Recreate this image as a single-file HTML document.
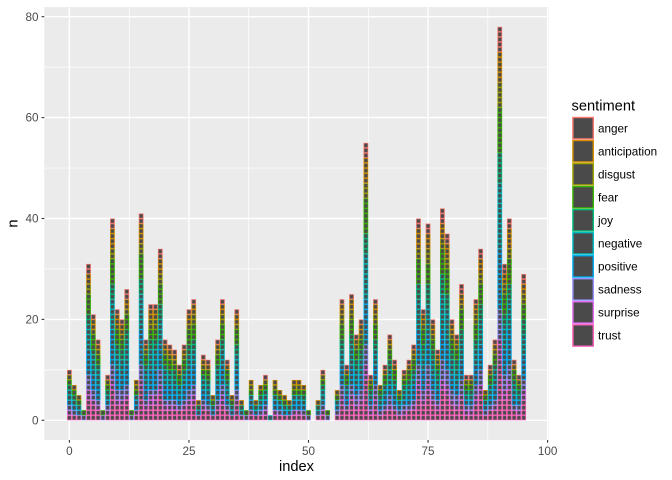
<!DOCTYPE html>
<html><head><meta charset="utf-8">
<style>
html,body{margin:0;padding:0;background:#fff;}
svg{display:block;font-family:"Liberation Sans",sans-serif;}
.bars rect{stroke:none;}
.T{fill:url(#pT)}
.S{fill:url(#pS)}
.D{fill:url(#pD)}
.P{fill:url(#pP)}
.N{fill:url(#pN)}
.J{fill:url(#pJ)}
.F{fill:url(#pF)}
.G{fill:url(#pG)}
.C{fill:url(#pC)}
.A{fill:url(#pA)}
.ax{font-size:11.7px;fill:#4D4D4D}
.lg{font-size:11.7px;fill:#000}
.tt{font-size:14.67px;fill:#000}
</style></head><body>
<svg width="672" height="480" viewBox="0 0 672 480" xmlns="http://www.w3.org/2000/svg">
<defs>
<pattern id="pT" patternUnits="userSpaceOnUse" x="-.5" y="0" width="1" height="1"><rect width="1" height="1" fill="#FF62BC"/><rect x=".16" y=".14" width=".68" height=".72" fill="#4a4a4a"/></pattern>
<pattern id="pS" patternUnits="userSpaceOnUse" x="-.5" y="0" width="1" height="1"><rect width="1" height="1" fill="#E76BF3"/><rect x=".16" y=".14" width=".68" height=".72" fill="#4a4a4a"/></pattern>
<pattern id="pD" patternUnits="userSpaceOnUse" x="-.5" y="0" width="1" height="1"><rect width="1" height="1" fill="#9590FF"/><rect x=".16" y=".14" width=".68" height=".72" fill="#4a4a4a"/></pattern>
<pattern id="pP" patternUnits="userSpaceOnUse" x="-.5" y="0" width="1" height="1"><rect width="1" height="1" fill="#00B0F6"/><rect x=".16" y=".14" width=".68" height=".72" fill="#4a4a4a"/></pattern>
<pattern id="pN" patternUnits="userSpaceOnUse" x="-.5" y="0" width="1" height="1"><rect width="1" height="1" fill="#00BFC4"/><rect x=".16" y=".14" width=".68" height=".72" fill="#4a4a4a"/></pattern>
<pattern id="pJ" patternUnits="userSpaceOnUse" x="-.5" y="0" width="1" height="1"><rect width="1" height="1" fill="#00BF7D"/><rect x=".16" y=".14" width=".68" height=".72" fill="#4a4a4a"/></pattern>
<pattern id="pF" patternUnits="userSpaceOnUse" x="-.5" y="0" width="1" height="1"><rect width="1" height="1" fill="#39B600"/><rect x=".16" y=".14" width=".68" height=".72" fill="#4a4a4a"/></pattern>
<pattern id="pG" patternUnits="userSpaceOnUse" x="-.5" y="0" width="1" height="1"><rect width="1" height="1" fill="#A3A500"/><rect x=".16" y=".14" width=".68" height=".72" fill="#4a4a4a"/></pattern>
<pattern id="pC" patternUnits="userSpaceOnUse" x="-.5" y="0" width="1" height="1"><rect width="1" height="1" fill="#D89000"/><rect x=".16" y=".14" width=".68" height=".72" fill="#4a4a4a"/></pattern>
<pattern id="pA" patternUnits="userSpaceOnUse" x="-.5" y="0" width="1" height="1"><rect width="1" height="1" fill="#F8766D"/><rect x=".16" y=".14" width=".68" height=".72" fill="#4a4a4a"/></pattern>

<g id="b1"><rect class="N" x="-.5" width="1" y="0" height="1"/></g>
<g id="b2"><rect class="D" x="-.5" width="1" y="0" height="1"/><rect class="F" x="-.5" width="1" y="1" height="1"/></g>
<g id="b4"><rect class="T" x="-.5" width="1" y="0" height="1"/><rect class="P" x="-.5" width="1" y="1" height="1"/><rect class="J" x="-.5" width="1" y="2" height="1"/><rect class="C" x="-.5" width="1" y="3" height="1"/></g>
<g id="b5"><rect class="T" x="-.5" width="1" y="0" height="1"/><rect class="P" x="-.5" width="1" y="1" height="1"/><rect class="N" x="-.5" width="1" y="2" height="1"/><rect class="F" x="-.5" width="1" y="3" height="1"/><rect class="C" x="-.5" width="1" y="4" height="1"/></g>
<g id="b6"><rect class="T" x="-.5" width="1" y="0" height="1"/><rect class="D" x="-.5" width="1" y="1" height="1"/><rect class="P" x="-.5" width="1" y="2" height="1"/><rect class="N" x="-.5" width="1" y="3" height="1"/><rect class="F" x="-.5" width="1" y="4" height="1"/><rect class="C" x="-.5" width="1" y="5" height="1"/></g>
<g id="b7"><rect class="T" x="-.5" width="1" y="0" height="1"/><rect class="D" x="-.5" width="1" y="1" height="1"/><rect class="P" x="-.5" width="1" y="2" height="1"/><rect class="N" x="-.5" width="1" y="3" height="1"/><rect class="J" x="-.5" width="1" y="4" height="1"/><rect class="F" x="-.5" width="1" y="5" height="1"/><rect class="C" x="-.5" width="1" y="6" height="1"/></g>
<g id="b8"><rect class="T" x="-.5" width="1" y="0" height="1"/><rect class="S" x="-.5" width="1" y="1" height="1"/><rect class="P" x="-.5" width="1" y="2" height="2"/><rect class="N" x="-.5" width="1" y="4" height="1"/><rect class="F" x="-.5" width="1" y="5" height="1"/><rect class="G" x="-.5" width="1" y="6" height="1"/><rect class="C" x="-.5" width="1" y="7" height="1"/></g>
<g id="b9"><rect class="T" x="-.5" width="1" y="0" height="1"/><rect class="S" x="-.5" width="1" y="1" height="1"/><rect class="D" x="-.5" width="1" y="2" height="1"/><rect class="P" x="-.5" width="1" y="3" height="1"/><rect class="N" x="-.5" width="1" y="4" height="1"/><rect class="J" x="-.5" width="1" y="5" height="1"/><rect class="F" x="-.5" width="1" y="6" height="1"/><rect class="G" x="-.5" width="1" y="7" height="1"/><rect class="A" x="-.5" width="1" y="8" height="1"/></g>
<g id="b10"><rect class="T" x="-.5" width="1" y="0" height="1"/><rect class="S" x="-.5" width="1" y="1" height="1"/><rect class="D" x="-.5" width="1" y="2" height="1"/><rect class="P" x="-.5" width="1" y="3" height="1"/><rect class="N" x="-.5" width="1" y="4" height="2"/><rect class="J" x="-.5" width="1" y="6" height="1"/><rect class="F" x="-.5" width="1" y="7" height="1"/><rect class="G" x="-.5" width="1" y="8" height="1"/><rect class="A" x="-.5" width="1" y="9" height="1"/></g>
<g id="b11"><rect class="T" x="-.5" width="1" y="0" height="2"/><rect class="D" x="-.5" width="1" y="2" height="1"/><rect class="P" x="-.5" width="1" y="3" height="2"/><rect class="N" x="-.5" width="1" y="5" height="2"/><rect class="F" x="-.5" width="1" y="7" height="2"/><rect class="C" x="-.5" width="1" y="9" height="1"/><rect class="A" x="-.5" width="1" y="10" height="1"/></g>
<g id="b12"><rect class="T" x="-.5" width="1" y="0" height="2"/><rect class="D" x="-.5" width="1" y="2" height="1"/><rect class="P" x="-.5" width="1" y="3" height="2"/><rect class="N" x="-.5" width="1" y="5" height="2"/><rect class="J" x="-.5" width="1" y="7" height="1"/><rect class="F" x="-.5" width="1" y="8" height="2"/><rect class="C" x="-.5" width="1" y="10" height="1"/><rect class="A" x="-.5" width="1" y="11" height="1"/></g>
<g id="b13"><rect class="T" x="-.5" width="1" y="0" height="2"/><rect class="S" x="-.5" width="1" y="2" height="1"/><rect class="D" x="-.5" width="1" y="3" height="1"/><rect class="P" x="-.5" width="1" y="4" height="2"/><rect class="N" x="-.5" width="1" y="6" height="2"/><rect class="J" x="-.5" width="1" y="8" height="1"/><rect class="F" x="-.5" width="1" y="9" height="1"/><rect class="G" x="-.5" width="1" y="10" height="1"/><rect class="C" x="-.5" width="1" y="11" height="1"/><rect class="A" x="-.5" width="1" y="12" height="1"/></g>
<g id="b14"><rect class="T" x="-.5" width="1" y="0" height="2"/><rect class="S" x="-.5" width="1" y="2" height="1"/><rect class="D" x="-.5" width="1" y="3" height="1"/><rect class="P" x="-.5" width="1" y="4" height="2"/><rect class="N" x="-.5" width="1" y="6" height="2"/><rect class="J" x="-.5" width="1" y="8" height="2"/><rect class="F" x="-.5" width="1" y="10" height="1"/><rect class="G" x="-.5" width="1" y="11" height="1"/><rect class="C" x="-.5" width="1" y="12" height="1"/><rect class="A" x="-.5" width="1" y="13" height="1"/></g>
<g id="b15"><rect class="T" x="-.5" width="1" y="0" height="2"/><rect class="S" x="-.5" width="1" y="2" height="1"/><rect class="D" x="-.5" width="1" y="3" height="1"/><rect class="P" x="-.5" width="1" y="4" height="3"/><rect class="N" x="-.5" width="1" y="7" height="2"/><rect class="J" x="-.5" width="1" y="9" height="1"/><rect class="F" x="-.5" width="1" y="10" height="2"/><rect class="G" x="-.5" width="1" y="12" height="1"/><rect class="C" x="-.5" width="1" y="13" height="1"/><rect class="A" x="-.5" width="1" y="14" height="1"/></g>
<g id="b16"><rect class="T" x="-.5" width="1" y="0" height="2"/><rect class="S" x="-.5" width="1" y="2" height="1"/><rect class="D" x="-.5" width="1" y="3" height="1"/><rect class="P" x="-.5" width="1" y="4" height="3"/><rect class="N" x="-.5" width="1" y="7" height="3"/><rect class="J" x="-.5" width="1" y="10" height="1"/><rect class="F" x="-.5" width="1" y="11" height="2"/><rect class="G" x="-.5" width="1" y="13" height="1"/><rect class="C" x="-.5" width="1" y="14" height="1"/><rect class="A" x="-.5" width="1" y="15" height="1"/></g>
<g id="b17"><rect class="T" x="-.5" width="1" y="0" height="2"/><rect class="S" x="-.5" width="1" y="2" height="1"/><rect class="D" x="-.5" width="1" y="3" height="2"/><rect class="P" x="-.5" width="1" y="5" height="2"/><rect class="N" x="-.5" width="1" y="7" height="3"/><rect class="J" x="-.5" width="1" y="10" height="2"/><rect class="F" x="-.5" width="1" y="12" height="2"/><rect class="G" x="-.5" width="1" y="14" height="1"/><rect class="C" x="-.5" width="1" y="15" height="1"/><rect class="A" x="-.5" width="1" y="16" height="1"/></g>
<g id="b20"><rect class="T" x="-.5" width="1" y="0" height="3"/><rect class="S" x="-.5" width="1" y="3" height="1"/><rect class="D" x="-.5" width="1" y="4" height="2"/><rect class="P" x="-.5" width="1" y="6" height="3"/><rect class="N" x="-.5" width="1" y="9" height="3"/><rect class="J" x="-.5" width="1" y="12" height="2"/><rect class="F" x="-.5" width="1" y="14" height="2"/><rect class="G" x="-.5" width="1" y="16" height="1"/><rect class="C" x="-.5" width="1" y="17" height="2"/><rect class="A" x="-.5" width="1" y="19" height="1"/></g>
<g id="b21"><rect class="T" x="-.5" width="1" y="0" height="3"/><rect class="S" x="-.5" width="1" y="3" height="1"/><rect class="D" x="-.5" width="1" y="4" height="2"/><rect class="P" x="-.5" width="1" y="6" height="3"/><rect class="N" x="-.5" width="1" y="9" height="4"/><rect class="J" x="-.5" width="1" y="13" height="1"/><rect class="F" x="-.5" width="1" y="14" height="3"/><rect class="G" x="-.5" width="1" y="17" height="1"/><rect class="C" x="-.5" width="1" y="18" height="2"/><rect class="A" x="-.5" width="1" y="20" height="1"/></g>
<g id="b22"><rect class="T" x="-.5" width="1" y="0" height="3"/><rect class="S" x="-.5" width="1" y="3" height="1"/><rect class="D" x="-.5" width="1" y="4" height="2"/><rect class="P" x="-.5" width="1" y="6" height="4"/><rect class="N" x="-.5" width="1" y="10" height="3"/><rect class="J" x="-.5" width="1" y="13" height="2"/><rect class="F" x="-.5" width="1" y="15" height="3"/><rect class="G" x="-.5" width="1" y="18" height="1"/><rect class="C" x="-.5" width="1" y="19" height="2"/><rect class="A" x="-.5" width="1" y="21" height="1"/></g>
<g id="b23"><rect class="T" x="-.5" width="1" y="0" height="3"/><rect class="S" x="-.5" width="1" y="3" height="2"/><rect class="D" x="-.5" width="1" y="5" height="1"/><rect class="P" x="-.5" width="1" y="6" height="4"/><rect class="N" x="-.5" width="1" y="10" height="4"/><rect class="J" x="-.5" width="1" y="14" height="2"/><rect class="F" x="-.5" width="1" y="16" height="2"/><rect class="G" x="-.5" width="1" y="18" height="2"/><rect class="C" x="-.5" width="1" y="20" height="2"/><rect class="A" x="-.5" width="1" y="22" height="1"/></g>
<g id="b24"><rect class="T" x="-.5" width="1" y="0" height="3"/><rect class="S" x="-.5" width="1" y="3" height="2"/><rect class="D" x="-.5" width="1" y="5" height="2"/><rect class="P" x="-.5" width="1" y="7" height="4"/><rect class="N" x="-.5" width="1" y="11" height="3"/><rect class="J" x="-.5" width="1" y="14" height="2"/><rect class="F" x="-.5" width="1" y="16" height="3"/><rect class="G" x="-.5" width="1" y="19" height="2"/><rect class="C" x="-.5" width="1" y="21" height="2"/><rect class="A" x="-.5" width="1" y="23" height="1"/></g>
<g id="b25"><rect class="T" x="-.5" width="1" y="0" height="4"/><rect class="S" x="-.5" width="1" y="4" height="1"/><rect class="D" x="-.5" width="1" y="5" height="2"/><rect class="P" x="-.5" width="1" y="7" height="4"/><rect class="N" x="-.5" width="1" y="11" height="4"/><rect class="J" x="-.5" width="1" y="15" height="2"/><rect class="F" x="-.5" width="1" y="17" height="3"/><rect class="G" x="-.5" width="1" y="20" height="2"/><rect class="C" x="-.5" width="1" y="22" height="2"/><rect class="A" x="-.5" width="1" y="24" height="1"/></g>
<g id="b26"><rect class="T" x="-.5" width="1" y="0" height="4"/><rect class="S" x="-.5" width="1" y="4" height="1"/><rect class="D" x="-.5" width="1" y="5" height="2"/><rect class="P" x="-.5" width="1" y="7" height="4"/><rect class="N" x="-.5" width="1" y="11" height="5"/><rect class="J" x="-.5" width="1" y="16" height="2"/><rect class="F" x="-.5" width="1" y="18" height="3"/><rect class="G" x="-.5" width="1" y="21" height="1"/><rect class="C" x="-.5" width="1" y="22" height="2"/><rect class="A" x="-.5" width="1" y="24" height="2"/></g>
<g id="b27"><rect class="T" x="-.5" width="1" y="0" height="4"/><rect class="S" x="-.5" width="1" y="4" height="1"/><rect class="D" x="-.5" width="1" y="5" height="3"/><rect class="P" x="-.5" width="1" y="8" height="4"/><rect class="N" x="-.5" width="1" y="12" height="4"/><rect class="J" x="-.5" width="1" y="16" height="2"/><rect class="F" x="-.5" width="1" y="18" height="4"/><rect class="G" x="-.5" width="1" y="22" height="1"/><rect class="C" x="-.5" width="1" y="23" height="2"/><rect class="A" x="-.5" width="1" y="25" height="2"/></g>
<g id="b29"><rect class="T" x="-.5" width="1" y="0" height="4"/><rect class="S" x="-.5" width="1" y="4" height="2"/><rect class="D" x="-.5" width="1" y="6" height="2"/><rect class="P" x="-.5" width="1" y="8" height="5"/><rect class="N" x="-.5" width="1" y="13" height="4"/><rect class="J" x="-.5" width="1" y="17" height="3"/><rect class="F" x="-.5" width="1" y="20" height="3"/><rect class="G" x="-.5" width="1" y="23" height="2"/><rect class="C" x="-.5" width="1" y="25" height="2"/><rect class="A" x="-.5" width="1" y="27" height="2"/></g>
<g id="b31"><rect class="T" x="-.5" width="1" y="0" height="4"/><rect class="S" x="-.5" width="1" y="4" height="2"/><rect class="D" x="-.5" width="1" y="6" height="3"/><rect class="P" x="-.5" width="1" y="9" height="5"/><rect class="N" x="-.5" width="1" y="14" height="5"/><rect class="J" x="-.5" width="1" y="19" height="2"/><rect class="F" x="-.5" width="1" y="21" height="4"/><rect class="G" x="-.5" width="1" y="25" height="2"/><rect class="C" x="-.5" width="1" y="27" height="2"/><rect class="A" x="-.5" width="1" y="29" height="2"/></g>
<g id="b34"><rect class="T" x="-.5" width="1" y="0" height="5"/><rect class="S" x="-.5" width="1" y="5" height="2"/><rect class="D" x="-.5" width="1" y="7" height="3"/><rect class="P" x="-.5" width="1" y="10" height="5"/><rect class="N" x="-.5" width="1" y="15" height="5"/><rect class="J" x="-.5" width="1" y="20" height="3"/><rect class="F" x="-.5" width="1" y="23" height="4"/><rect class="G" x="-.5" width="1" y="27" height="2"/><rect class="C" x="-.5" width="1" y="29" height="3"/><rect class="A" x="-.5" width="1" y="32" height="2"/></g>
<g id="b37"><rect class="T" x="-.5" width="1" y="0" height="5"/><rect class="S" x="-.5" width="1" y="5" height="2"/><rect class="D" x="-.5" width="1" y="7" height="3"/><rect class="P" x="-.5" width="1" y="10" height="6"/><rect class="N" x="-.5" width="1" y="16" height="6"/><rect class="J" x="-.5" width="1" y="22" height="3"/><rect class="F" x="-.5" width="1" y="25" height="5"/><rect class="G" x="-.5" width="1" y="30" height="2"/><rect class="C" x="-.5" width="1" y="32" height="3"/><rect class="A" x="-.5" width="1" y="35" height="2"/></g>
<g id="b39"><rect class="T" x="-.5" width="1" y="0" height="5"/><rect class="S" x="-.5" width="1" y="5" height="3"/><rect class="D" x="-.5" width="1" y="8" height="3"/><rect class="P" x="-.5" width="1" y="11" height="6"/><rect class="N" x="-.5" width="1" y="17" height="6"/><rect class="J" x="-.5" width="1" y="23" height="4"/><rect class="F" x="-.5" width="1" y="27" height="4"/><rect class="G" x="-.5" width="1" y="31" height="3"/><rect class="C" x="-.5" width="1" y="34" height="3"/><rect class="A" x="-.5" width="1" y="37" height="2"/></g>
<g id="b40"><rect class="T" x="-.5" width="1" y="0" height="6"/><rect class="S" x="-.5" width="1" y="6" height="2"/><rect class="D" x="-.5" width="1" y="8" height="3"/><rect class="P" x="-.5" width="1" y="11" height="7"/><rect class="N" x="-.5" width="1" y="18" height="6"/><rect class="J" x="-.5" width="1" y="24" height="3"/><rect class="F" x="-.5" width="1" y="27" height="5"/><rect class="G" x="-.5" width="1" y="32" height="2"/><rect class="C" x="-.5" width="1" y="34" height="4"/><rect class="A" x="-.5" width="1" y="38" height="2"/></g>
<g id="b41"><rect class="T" x="-.5" width="1" y="0" height="6"/><rect class="S" x="-.5" width="1" y="6" height="2"/><rect class="D" x="-.5" width="1" y="8" height="3"/><rect class="P" x="-.5" width="1" y="11" height="7"/><rect class="N" x="-.5" width="1" y="18" height="7"/><rect class="J" x="-.5" width="1" y="25" height="3"/><rect class="F" x="-.5" width="1" y="28" height="5"/><rect class="G" x="-.5" width="1" y="33" height="2"/><rect class="C" x="-.5" width="1" y="35" height="4"/><rect class="A" x="-.5" width="1" y="39" height="2"/></g>
<g id="b42"><rect class="T" x="-.5" width="1" y="0" height="6"/><rect class="S" x="-.5" width="1" y="6" height="2"/><rect class="D" x="-.5" width="1" y="8" height="4"/><rect class="P" x="-.5" width="1" y="12" height="6"/><rect class="N" x="-.5" width="1" y="18" height="7"/><rect class="J" x="-.5" width="1" y="25" height="4"/><rect class="F" x="-.5" width="1" y="29" height="5"/><rect class="G" x="-.5" width="1" y="34" height="2"/><rect class="C" x="-.5" width="1" y="36" height="3"/><rect class="A" x="-.5" width="1" y="39" height="3"/></g>
<g id="b55"><rect class="T" x="-.5" width="1" y="0" height="8"/><rect class="S" x="-.5" width="1" y="8" height="3"/><rect class="D" x="-.5" width="1" y="11" height="4"/><rect class="P" x="-.5" width="1" y="15" height="9"/><rect class="N" x="-.5" width="1" y="24" height="9"/><rect class="J" x="-.5" width="1" y="33" height="4"/><rect class="F" x="-.5" width="1" y="37" height="7"/><rect class="G" x="-.5" width="1" y="44" height="3"/><rect class="C" x="-.5" width="1" y="47" height="5"/><rect class="A" x="-.5" width="1" y="52" height="3"/></g>
<g id="b78"><rect class="T" x="-.5" width="1" y="0" height="11"/><rect class="S" x="-.5" width="1" y="11" height="5"/><rect class="D" x="-.5" width="1" y="16" height="6"/><rect class="P" x="-.5" width="1" y="22" height="12"/><rect class="N" x="-.5" width="1" y="34" height="13"/><rect class="J" x="-.5" width="1" y="47" height="6"/><rect class="F" x="-.5" width="1" y="53" height="9"/><rect class="G" x="-.5" width="1" y="62" height="5"/><rect class="C" x="-.5" width="1" y="67" height="6"/><rect class="A" x="-.5" width="1" y="73" height="5"/></g>
</defs>

<rect x="0" y="0" width="672" height="480" fill="#fff"/>
<!-- panel -->
<rect x="44.3" y="7.1" width="504.5" height="432.9" fill="#EBEBEB"/>
<g stroke="#fff" stroke-width="0.7">
<line x1="129.2" y1="7.1" x2="129.2" y2="440"/><line x1="248.7" y1="7.1" x2="248.7" y2="440"/><line x1="368.3" y1="7.1" x2="368.3" y2="440"/><line x1="487.8" y1="7.1" x2="487.8" y2="440"/>
<line x1="44.3" y1="369.85" x2="548.8" y2="369.85"/><line x1="44.3" y1="268.95" x2="548.8" y2="268.95"/><line x1="44.3" y1="168.05" x2="548.8" y2="168.05"/><line x1="44.3" y1="67.15" x2="548.8" y2="67.15"/>
</g>
<g stroke="#fff" stroke-width="1.4">
<line x1="69.4" y1="7.1" x2="69.4" y2="440"/><line x1="188.95" y1="7.1" x2="188.95" y2="440"/><line x1="308.5" y1="7.1" x2="308.5" y2="440"/><line x1="428.05" y1="7.1" x2="428.05" y2="440"/><line x1="547.6" y1="7.1" x2="547.6" y2="440"/>
<line x1="44.3" y1="420.3" x2="548.8" y2="420.3"/><line x1="44.3" y1="319.4" x2="548.8" y2="319.4"/><line x1="44.3" y1="218.5" x2="548.8" y2="218.5"/><line x1="44.3" y1="117.6" x2="548.8" y2="117.6"/><line x1="44.3" y1="16.7" x2="548.8" y2="16.7"/>
</g>

<!-- bars -->
<g class="bars" transform="translate(69.4,420.3) scale(4.782,-5.045)">
<use href="#b10" x="0"/><use href="#b7" x="1"/><use href="#b5" x="2"/><use href="#b2" x="3"/><use href="#b31" x="4"/><use href="#b21" x="5"/><use href="#b16" x="6"/><use href="#b2" x="7"/><use href="#b9" x="8"/><use href="#b40" x="9"/>
<use href="#b22" x="10"/><use href="#b20" x="11"/><use href="#b26" x="12"/><use href="#b2" x="13"/><use href="#b8" x="14"/><use href="#b41" x="15"/><use href="#b16" x="16"/><use href="#b23" x="17"/><use href="#b23" x="18"/><use href="#b34" x="19"/>
<use href="#b16" x="20"/><use href="#b15" x="21"/><use href="#b14" x="22"/><use href="#b11" x="23"/><use href="#b15" x="24"/><use href="#b22" x="25"/><use href="#b24" x="26"/><use href="#b4" x="27"/><use href="#b13" x="28"/><use href="#b12" x="29"/>
<use href="#b5" x="30"/><use href="#b16" x="31"/><use href="#b24" x="32"/><use href="#b12" x="33"/><use href="#b5" x="34"/><use href="#b22" x="35"/><use href="#b4" x="36"/><use href="#b2" x="37"/><use href="#b8" x="38"/><use href="#b4" x="39"/>
<use href="#b7" x="40"/><use href="#b9" x="41"/><use href="#b1" x="42"/><use href="#b8" x="43"/><use href="#b6" x="44"/><use href="#b5" x="45"/><use href="#b4" x="46"/><use href="#b8" x="47"/><use href="#b8" x="48"/><use href="#b7" x="49"/>
<use href="#b2" x="50"/><use href="#b4" x="52"/><use href="#b10" x="53"/><use href="#b2" x="54"/><use href="#b6" x="56"/><use href="#b24" x="57"/><use href="#b11" x="58"/><use href="#b25" x="59"/>
<use href="#b17" x="60"/><use href="#b20" x="61"/><use href="#b55" x="62"/><use href="#b9" x="63"/><use href="#b24" x="64"/><use href="#b7" x="65"/><use href="#b11" x="66"/><use href="#b17" x="67"/><use href="#b12" x="68"/><use href="#b6" x="69"/>
<use href="#b10" x="70"/><use href="#b12" x="71"/><use href="#b15" x="72"/><use href="#b40" x="73"/><use href="#b22" x="74"/><use href="#b39" x="75"/><use href="#b20" x="76"/><use href="#b14" x="77"/><use href="#b42" x="78"/><use href="#b37" x="79"/>
<use href="#b20" x="80"/><use href="#b17" x="81"/><use href="#b27" x="82"/><use href="#b9" x="83"/><use href="#b9" x="84"/><use href="#b24" x="85"/><use href="#b34" x="86"/><use href="#b6" x="87"/><use href="#b11" x="88"/><use href="#b16" x="89"/>
<use href="#b78" x="90"/><use href="#b31" x="91"/><use href="#b40" x="92"/><use href="#b12" x="93"/><use href="#b9" x="94"/><use href="#b29" x="95"/>
</g>

<!-- axes ticks -->
<g stroke="#333" stroke-width="1.1">
<line x1="41.6" y1="420.3" x2="44.3" y2="420.3"/><line x1="41.6" y1="319.4" x2="44.3" y2="319.4"/><line x1="41.6" y1="218.5" x2="44.3" y2="218.5"/><line x1="41.6" y1="117.6" x2="44.3" y2="117.6"/><line x1="41.6" y1="16.7" x2="44.3" y2="16.7"/>
<line x1="69.4" y1="440" x2="69.4" y2="442.7"/><line x1="188.95" y1="440" x2="188.95" y2="442.7"/><line x1="308.5" y1="440" x2="308.5" y2="442.7"/><line x1="428.05" y1="440" x2="428.05" y2="442.7"/><line x1="547.6" y1="440" x2="547.6" y2="442.7"/>
</g>
<g class="ax" text-anchor="end">
<text x="38.5" y="424.4">0</text><text x="38.5" y="323.5">20</text><text x="38.5" y="222.6">40</text><text x="38.5" y="121.7">60</text><text x="38.5" y="20.8">80</text>
</g>
<g class="ax" text-anchor="middle">
<text x="69.4" y="455">0</text><text x="188.95" y="455">25</text><text x="308.5" y="455">50</text><text x="428.05" y="455">75</text><text x="547.6" y="455">100</text>
</g>
<text class="tt" x="296.5" y="471" text-anchor="middle">index</text>
<text class="tt" transform="translate(17.3,223.5) rotate(-90)" text-anchor="middle">n</text>

<!-- legend -->
<text class="tt" x="571.5" y="110.7">sentiment</text>
<g stroke-width="1.4" fill="#4a4a4a">
<rect x="572.9" y="117.5" width="20.4" height="21.4" stroke="#F8766D"/>
<rect x="572.9" y="140.53" width="20.4" height="21.4" stroke="#D89000"/>
<rect x="572.9" y="163.56" width="20.4" height="21.4" stroke="#A3A500"/>
<rect x="572.9" y="186.59" width="20.4" height="21.4" stroke="#39B600"/>
<rect x="572.9" y="209.62" width="20.4" height="21.4" stroke="#00BF7D"/>
<rect x="572.9" y="232.65" width="20.4" height="21.4" stroke="#00BFC4"/>
<rect x="572.9" y="255.68" width="20.4" height="21.4" stroke="#00B0F6"/>
<rect x="572.9" y="278.71" width="20.4" height="21.4" stroke="#9590FF"/>
<rect x="572.9" y="301.74" width="20.4" height="21.4" stroke="#E76BF3"/>
<rect x="572.9" y="324.77" width="20.4" height="21.4" stroke="#FF62BC"/>
</g>
<g class="lg">
<text x="598" y="132.3">anger</text>
<text x="598" y="155.33">anticipation</text>
<text x="598" y="178.36">disgust</text>
<text x="598" y="201.39">fear</text>
<text x="598" y="224.42">joy</text>
<text x="598" y="247.45">negative</text>
<text x="598" y="270.48">positive</text>
<text x="598" y="293.51">sadness</text>
<text x="598" y="316.54">surprise</text>
<text x="598" y="339.57">trust</text>
</g>
</svg>
</body></html>
